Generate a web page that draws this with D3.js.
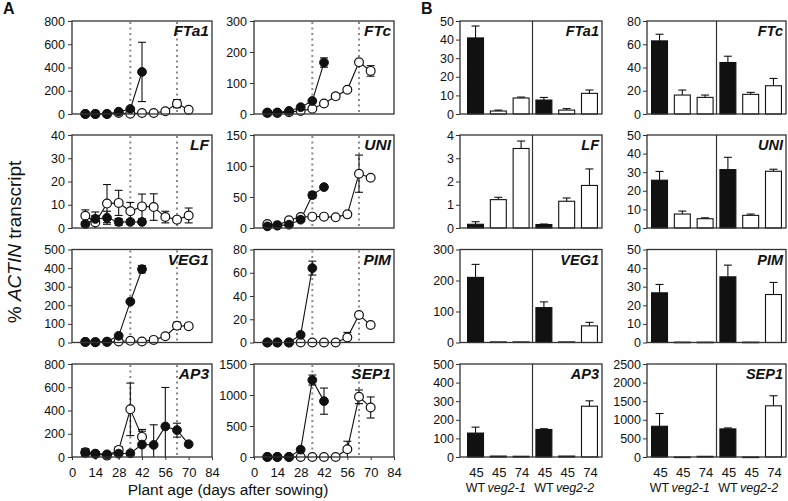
<!DOCTYPE html>
<html><head><meta charset="utf-8">
<script src="https://cdn.jsdelivr.net/npm/d3@7"></script>
<style>
body{margin:0;background:#fff;}
text{font-family:"Liberation Sans",Arial,sans-serif;fill:#111;}
</style></head><body>
<svg id="c" width="788" height="501"></svg>
<script>
// ---------- DATA ----------
const days = [8,14,21,28,35,42,49,56,63,70];
const xTicksA = [0,14,28,42,56,70,84];
const markerDays = [35,63];

// Panel A: mean and sd per time point (filled = black, open = white)
const ftA1Black = [0,0,0,20,43,362];            const ftA1BlackSd = [0,0,0,0,0,255];
const ftA1White = [0,0,0,8,3,8,8,23,89,37];     const ftA1WhiteSd = [0,0,0,0,0,0,0,0,35,0];
const lfBlack = [1.7,3.9,4.4,2.6,2.6,2.6];      const lfBlackSd = [0.8,1.5,2.8,1.5,1,1];
const lfWhite = [5.3,2.4,10.5,10.8,7.2,9.3,9,4.7,3.6,5.4];
const lfWhiteSd = [2.5,4.5,8.2,5.4,3.8,5.3,5.7,2.5,1,3.2];
const veg1Black = [3,2,5,36,220,394];           const veg1BlackSd = [0,0,0,0,0,20];
const veg1White = [3,2,3,5,9,5,14,34,90,88];    const veg1WhiteSd = [0,0,0,0,0,0,0,0,19,0];
const ap3Black = [35,29,23,29,32,107,104,263,231,110];
const ap3BlackSd = [31,0,0,0,0,115,173,335,60,0];
const ap3White = [40,26,12,61,410,173];         const ap3WhiteSd = [32,0,0,29,226,64];
const ftcBlack = [5,5,10,22,42,166];            const ftcBlackSd = [0,0,0,0,0,15];
const ftcWhite = [3,3,6,10,17,34,57,78,167,139]; const ftcWhiteSd = [0,0,0,0,0,0,9,0,0,17];
const uniBlack = [2.7,3.8,5.4,13.4,53,66];      const uniBlackSd = [0,0,0,3,5,0];
const uniWhite = [6.5,4.3,12.4,17.7,18.3,18.3,17.2,22,87.6,81];
const uniWhiteSd = [0,0,3,3,0,0,0,0,30,0];
const pimBlack = [0,0,0,6.6,64];                const pimBlackSd = [0,0,0,0,6];
const pimWhite = [0,0,0,0,0,0,0,4.3,23.7,15];   const pimWhiteSd = [0,0,0,0,0,0,0,4.4,0,0];
const sep1Black = [0,0,0,119,1241,901];         const sep1BlackSd = [0,0,0,0,81,211];
const sep1White = [0,0,0,0,0,0,0,124,971,799];  const sep1WhiteSd = [0,0,0,0,0,0,0,130,110,170];

// Panel B: bars  WT45, veg2-1 45, veg2-1 74, WT45, veg2-2 45, veg2-2 74
const barDays = ["45","45","74","45","45","74"];
const barGeno = ["WT","mut","mut","WT","mut","mut"];
const ftA1Bar = [40.9,1.6,8.6,7.5,2.1,11.1];   const ftA1BarErr = [6.4,0.5,0.5,1.4,0.8,1.8];
const lfBar = [0.16,1.22,3.42,0.15,1.15,1.83]; const lfBarErr = [0.11,0.1,0.32,0.02,0.14,0.71];
const veg1Bar = [210,2,2,112.5,2,53.6];        const veg1BarErr = [42,0,0,18.5,0,11.4];
const ap3Bar = [128.6,5,4,148,5,273];          const ap3BarErr = [32,0,0,4,0,29];
const ftcBar = [62.9,16.3,14.3,44.3,16.9,24.3]; const ftcBarErr = [5.7,4.3,2,5.4,1.7,6.3];
const uniBar = [25.7,7.5,5,31.4,6.8,30.5];     const uniBarErr = [4.7,1.6,0.5,6.6,0.7,1.1];
const pimBar = [26.7,0.2,0.2,35.3,0.2,25.8];   const pimBarErr = [4.5,0,0,6.3,0,6.5];
const sep1Bar = [827,0,18,755,0,1376];         const sep1BarErr = [342,0,0,27,0,270];

const genes = ["FTa1","LF","VEG1","AP3","FTc","UNI","PIM","SEP1"];
const yMaxA = [800,40,500,800,300,150,80,1500];
const yStepA = [200,10,100,200,100,50,20,500];
const yMaxB = [50,4,300,500,80,50,50,2500];
const yStepB = [10,1,100,100,20,10,10,500];

const seriesA = [
  [ftA1Black,ftA1BlackSd,ftA1White,ftA1WhiteSd],
  [lfBlack,lfBlackSd,lfWhite,lfWhiteSd],
  [veg1Black,veg1BlackSd,veg1White,veg1WhiteSd],
  [ap3Black,ap3BlackSd,ap3White,ap3WhiteSd],
  [ftcBlack,ftcBlackSd,ftcWhite,ftcWhiteSd],
  [uniBlack,uniBlackSd,uniWhite,uniWhiteSd],
  [pimBlack,pimBlackSd,pimWhite,pimWhiteSd],
  [sep1Black,sep1BlackSd,sep1White,sep1WhiteSd]
];
const seriesB = [
  [ftA1Bar,ftA1BarErr],[lfBar,lfBarErr],[veg1Bar,veg1BarErr],[ap3Bar,ap3BarErr],
  [ftcBar,ftcBarErr],[uniBar,uniBarErr],[pimBar,pimBarErr],[sep1Bar,sep1BarErr]
];

// ---------- LAYOUT ----------
const svg = d3.select("#c");
const rowTop = [21,135,249.5,364];
const H = 93;
const colA = [[72,212],[254,394]];
const colB = [[460,602,463],[647,786,647]];
const frameCol = "#333";
const fmt = d3.format("d");

function styleAxis(g, fs){
  g.select(".domain").remove();
  g.selectAll(".tick line").attr("stroke",frameCol).attr("stroke-width",1);
  g.selectAll(".tick text").style("font-size",fs).attr("fill","#111")
    .style("font-family","'Liberation Sans',Arial,sans-serif");
}

function toPts(vals, sds){
  return vals.map((v,i)=>({day:days[i], v, sd:sds[i]}));
}

genes.forEach((gene, gi)=>{
  const col = gi < 4 ? 0 : 1, row = gi % 4;
  const top = rowTop[row], bot = top + H;
  // ---- Panel A ----
  const [ax0, ax1] = colA[col];
  const x = d3.scaleLinear().domain([0,84]).range([ax0,ax1]);
  const y = d3.scaleLinear().domain([0,yMaxA[gi]]).range([bot,top]);
  const g = svg.append("g");
  const yAx = g.append("g").attr("transform",`translate(${ax0},0)`)
    .call(d3.axisLeft(y).tickValues(d3.range(0,yMaxA[gi]+1e-9,yStepA[gi])).tickFormat(fmt).tickSize(4).tickPadding(3));
  styleAxis(yAx,"12.5px");
  if(row===3){
    const xAx = g.append("g").attr("transform",`translate(0,${bot})`)
      .call(d3.axisBottom(x).tickValues(xTicksA).tickSize(3).tickPadding(8));
    styleAxis(xAx,"13px");
  }
  // dotted reference lines
  markerDays.forEach(d=>{
    g.append("line").attr("x1",x(d)).attr("x2",x(d)).attr("y1",top+1).attr("y2",bot)
      .attr("stroke","#8a8a8a").attr("stroke-width",2).attr("stroke-dasharray","2,3.5");
  });
  const [bV,bS,wV,wS] = seriesA[gi];
  const black = toPts(bV,bS), white = toPts(wV,wS);
  const line = d3.line().x(d=>x(d.day)).y(d=>y(d.v));
  // error bars
  [white, black].forEach(s=>{
    s.filter(d=>d.sd>0).forEach(d=>{
      const lo = y(Math.max(0,d.v-d.sd)), hi = y(Math.min(yMaxA[gi],d.v+d.sd)), cx = x(d.day);
      g.append("line").attr("x1",cx).attr("x2",cx).attr("y1",lo).attr("y2",hi).attr("stroke","#111").attr("stroke-width",1.1);
      g.append("line").attr("x1",cx-4).attr("x2",cx+4).attr("y1",hi).attr("y2",hi).attr("stroke","#111").attr("stroke-width",1.1);
      if(d.v-d.sd>0) g.append("line").attr("x1",cx-4).attr("x2",cx+4).attr("y1",lo).attr("y2",lo).attr("stroke","#111").attr("stroke-width",1.1);
    });
  });
  g.append("path").datum(white).attr("d",line).attr("fill","none").attr("stroke","#111").attr("stroke-width",1.1);
  g.append("path").datum(black).attr("d",line).attr("fill","none").attr("stroke","#111").attr("stroke-width",1.1);
  g.selectAll(null).data(white).enter().append("circle")
    .attr("cx",d=>x(d.day)).attr("cy",d=>y(d.v)).attr("r",4.4)
    .attr("fill","#fff").attr("stroke","#111").attr("stroke-width",1.2);
  g.selectAll(null).data(black).enter().append("circle")
    .attr("cx",d=>x(d.day)).attr("cy",d=>y(d.v)).attr("r",4.4)
    .attr("fill","#111").attr("stroke","#111").attr("stroke-width",1);
  // frame
  g.append("rect").attr("x",ax0).attr("y",top).attr("width",ax1-ax0).attr("height",H)
    .attr("fill","none").attr("stroke",frameCol).attr("stroke-width",1.3);
  g.append("text").attr("x",ax1-3).attr("y",top+15).attr("text-anchor","end")
    .style("font-size","15.5px").style("font-weight","bold").style("font-style","italic").text(gene);

  // ---- Panel B ----
  const [bx0, bx1, bandStart] = colB[col];
  const xb = d3.scaleBand().domain(d3.range(6)).range([bandStart,bx1]).paddingInner(0.3).paddingOuter(0.2);
  const yb = d3.scaleLinear().domain([0,yMaxB[gi]]).range([bot,top]);
  const gb = svg.append("g");
  const ybAx = gb.append("g").attr("transform",`translate(${bx0},0)`)
    .call(d3.axisLeft(yb).tickValues(d3.range(0,yMaxB[gi]+1e-9,yStepB[gi])).tickFormat(fmt).tickSize(4).tickPadding(2));
  styleAxis(ybAx,"12.5px");
  const [vals, errs] = seriesB[gi];
  const bw = xb.bandwidth();
  vals.forEach((v,i)=>{
    const bx = xb(i), top2 = yb(v), e = errs[i];
    if(e>0){
      const et = yb(v+e), cx = bx+bw/2;
      gb.append("line").attr("x1",cx).attr("x2",cx).attr("y1",top2).attr("y2",et).attr("stroke","#111").attr("stroke-width",1.1);
      gb.append("line").attr("x1",cx-4).attr("x2",cx+4).attr("y1",et).attr("y2",et).attr("stroke","#111").attr("stroke-width",1.1);
    }
    gb.append("rect").attr("x",bx).attr("y",top2).attr("width",bw).attr("height",Math.max(0.6,bot-top2))
      .attr("fill", barGeno[i]==="WT" ? "#111" : "#fff").attr("stroke","#111").attr("stroke-width",1.1);
  });
  const divX = (xb(2)+bw+xb(3))/2;
  gb.append("line").attr("x1",divX).attr("x2",divX).attr("y1",top).attr("y2",bot).attr("stroke",frameCol).attr("stroke-width",1.2);
  gb.append("rect").attr("x",bx0).attr("y",top).attr("width",bx1-bx0).attr("height",H)
    .attr("fill","none").attr("stroke",frameCol).attr("stroke-width",1.3);
  gb.append("text").attr("x",bx1-3).attr("y",top+15).attr("text-anchor","end")
    .style("font-size","14.5px").style("font-weight","bold").style("font-style","italic").text(gene);
  if(row===3){
    barDays.forEach((t,i)=>{
      gb.append("text").attr("x",xb(i)+bw/2+1).attr("y",477).attr("text-anchor","middle")
        .style("font-size","13px").text(t);
    });
    const c = i=>xb(i)+bw/2;
    gb.append("text").attr("x",c(0)).attr("y",492).attr("text-anchor","middle").style("font-size","12.5px").text("WT");
    gb.append("text").attr("x",(c(1)+c(2))/2-3).attr("y",492).attr("text-anchor","middle").style("font-size","12.5px").style("font-style","italic").text("veg2-1");
    gb.append("text").attr("x",c(3)).attr("y",492).attr("text-anchor","middle").style("font-size","12.5px").text("WT");
    gb.append("text").attr("x",(c(4)+c(5))/2-3).attr("y",492).attr("text-anchor","middle").style("font-size","12.5px").style("font-style","italic").text("veg2-2");
  }
});

// titles
svg.append("text").attr("x",3).attr("y",14).style("font-size","16px").style("font-weight","bold").text("A");
svg.append("text").attr("x",421).attr("y",14).style("font-size","16px").style("font-weight","bold").text("B");
const yl = svg.append("text").attr("transform","translate(21,242) rotate(-90)").attr("text-anchor","middle").style("font-size","19px");
yl.append("tspan").text("% ");
yl.append("tspan").style("font-style","italic").text("ACTIN");
yl.append("tspan").text(" transcript");
svg.append("text").attr("x",228).attr("y",495).attr("text-anchor","middle").style("font-size","15.5px").text("Plant age (days after sowing)");
</script>
</body></html>
